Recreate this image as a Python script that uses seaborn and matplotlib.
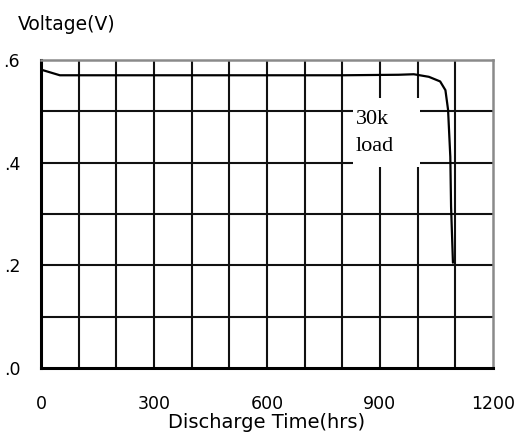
import matplotlib
matplotlib.use("Agg")
import matplotlib.pyplot as plt
import matplotlib.patches as patches
import seaborn as sns
import pandas as pd

# discharge curve
hours = [0, 50, 200, 400, 600, 800, 950, 990, 1030, 1060, 1074, 1081, 1087, 1089, 1094]
volts = [1.581, 1.570, 1.570, 1.570, 1.570, 1.570, 1.571, 1.572, 1.567, 1.558, 1.541,
         1.503, 1.411, 1.314, 1.205]

x_ticks = [0, 300, 600, 900, 1200]
y_ticks = [1.0, 1.2, 1.4, 1.6]
y_tick_labels = [".0", ".2", ".4", ".6"]
note = "30k\nload"

df = pd.DataFrame({"hours": hours, "volts": volts})

sns.set_style("white")
plt.rcParams["font.family"] = ["DejaVu Sans"]
plt.rcParams["text.color"] = "black"
plt.rcParams["axes.labelcolor"] = "black"
plt.rcParams["xtick.color"] = "black"
plt.rcParams["ytick.color"] = "black"

fig = plt.figure(figsize=(5.26, 4.37), dpi=100)
ax = fig.add_axes([0.078, 0.158, 0.859, 0.705])

sns.lineplot(data=df, x="hours", y="volts", color="black", linewidth=1.6, ax=ax, zorder=3)

ax.set_xlim(0, 1200)
ax.set_ylim(1.0, 1.6)

# grid every 100 hrs / 0.1 V
for gx in range(100, 1200, 100):
    ax.axvline(gx, color="#111111", linewidth=1.5, zorder=1)
for gy in [1.1, 1.2, 1.3, 1.4, 1.5]:
    ax.axhline(gy, color="#111111", linewidth=1.5, zorder=1)

# white box behind the label, cuts the grid lines
ax.add_patch(patches.Rectangle((828, 1.392), 179, 0.134, facecolor="white",
                               edgecolor="none", zorder=2))
ax.text(836, 1.457, note, family=["Liberation Serif", "DejaVu Serif"], fontsize=16,
        va="center", ha="left", linespacing=1.6, zorder=4, color="black")

ax.set_xticks(x_ticks)
ax.set_yticks(y_ticks)
ax.set_yticklabels(y_tick_labels)
ax.tick_params(axis="x", direction="in", length=5, width=2, pad=19.5, labelsize=12.5,
               color="black", labelcolor="black")
ax.tick_params(axis="y", direction="in", length=7, width=2.2, pad=15, labelsize=12.5,
               color="black", labelcolor="black")

for side in ["left", "bottom"]:
    ax.spines[side].set_color("black")
    ax.spines[side].set_linewidth(2.2)
for side in ["top", "right"]:
    ax.spines[side].set_color("#8a8a8a")
    ax.spines[side].set_linewidth(1.8)

ax.set_xlabel("Discharge Time(hrs)", fontsize=14, labelpad=0, color="black")
ax.set_ylabel("")
fig.text(0.034, 0.943, "Voltage(V)", fontsize=13.5, va="center", ha="left", color="black")

fig.savefig("out.png", dpi=100)
